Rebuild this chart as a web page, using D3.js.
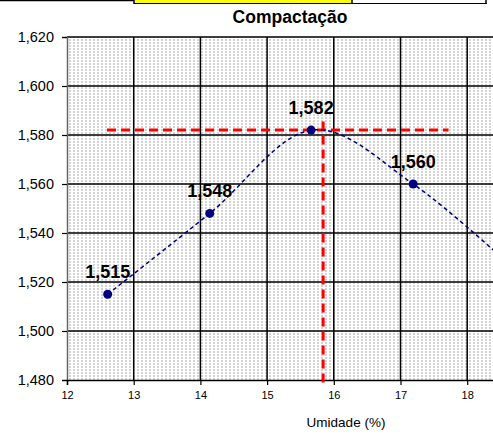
<!DOCTYPE html>
<html>
<head>
<meta charset="utf-8">
<script src="https://cdn.jsdelivr.net/npm/d3@7"></script>
<style>
  body { margin: 0; background: #fff; }
  svg { display: block; font-family: "Liberation Sans", Arial, sans-serif; }
</style>
</head>
<body>
<div id="chart"></div>
<script>
// data
var umidade   = [12.61, 14.14, 15.66, 17.19, 18.72];   // %
var densidade = [1.515, 1.548, 1.582, 1.560, 1.525];   // g/cm3
var yTicks = [1.48, 1.50, 1.52, 1.54, 1.56, 1.58, 1.60, 1.62];
var xTicks = [12, 13, 14, 15, 16, 17, 18];
var xGrid  = [13, 14, 15, 16, 17, 18, 19];
// optimum lines (red dashes)
var otimoH = {x1: 12.6, x2: 17.72, y: 1.582};
var otimoV = {x: 15.84, y1: 1.5855, y2: 1.479};

var width = 493,
    height = 437;

var x = d3.scaleLinear().domain([12, 20]).range([67, 600.6]);
var y = d3.scaleLinear().domain([1.48, 1.62]).range([380, 37]);

var br = d3.formatLocale({decimal: ",", thousands: ".", grouping: [3], currency: ["", ""]});
var fmt = br.format(".3f");

var svg = d3.select("#chart").append("svg")
    .attr("width", width)
    .attr("height", height);

// dotted fill of the plot area
var pat = svg.append("defs").append("pattern")
    .attr("id", "dots")
    .attr("patternUnits", "userSpaceOnUse")
    .attr("width", 4)
    .attr("height", 3);
pat.append("rect").attr("width", 4).attr("height", 3).attr("fill", "#fff");
pat.append("rect").attr("x", 1).attr("y", 0).attr("width", 2).attr("height", 2).attr("fill", "#d4d4d4");

// bits of the spreadsheet table above the chart
svg.append("rect").attr("x", 135).attr("y", 0).attr("width", 217).attr("height", 3).attr("fill", "#ffff00");
svg.append("line").attr("x1", 0).attr("x2", 134).attr("y1", 0.5).attr("y2", 0.5).attr("stroke", "#000").attr("stroke-width", 1.5);
svg.append("line").attr("x1", 134).attr("x2", 487).attr("y1", 3.5).attr("y2", 3.5).attr("stroke", "#000").attr("stroke-width", 1);
[134, 352, 486].forEach(function(px){
    svg.append("line").attr("x1", px).attr("x2", px).attr("y1", 0).attr("y2", 4).attr("stroke", "#000").attr("stroke-width", 1.5);
});

// plot area
svg.append("rect")
    .attr("x", x(12))
    .attr("y", y(1.62))
    .attr("width", x(20) - x(12))
    .attr("height", y(1.48) - y(1.62))
    .attr("fill", "url(#dots)");

// grid
svg.append("g").selectAll("line")
    .data(yTicks.slice(1))
  .enter().append("line")
    .attr("x1", x(12)).attr("x2", x(20))
    .attr("y1", function(d){ return y(d); })
    .attr("y2", function(d){ return y(d); })
    .attr("stroke", "#000")
    .attr("stroke-width", 1.5);

svg.append("g").selectAll("line")
    .data(xGrid)
  .enter().append("line")
    .attr("x1", function(d){ return x(d); })
    .attr("x2", function(d){ return x(d); })
    .attr("y1", y(1.62)).attr("y2", y(1.48))
    .attr("stroke", "#000")
    .attr("stroke-width", 1.5);

// axes
var yAxis = svg.append("g")
    .attr("transform", "translate(" + x(12) + ",0)")
    .call(d3.axisLeft(y).tickValues(yTicks).tickFormat(fmt).tickSize(5).tickPadding(8));
yAxis.select(".domain").attr("stroke", "#666").attr("stroke-width", 1.5);
yAxis.selectAll(".tick line").attr("stroke", "#000").attr("stroke-width", 1.2);
yAxis.selectAll("text").attr("font-size", "14.5px").attr("fill", "#000")
    .attr("font-family", "Liberation Sans, Arial, sans-serif");

var xAxis = svg.append("g")
    .attr("transform", "translate(0," + y(1.48) + ")")
    .call(d3.axisBottom(x).tickValues(xTicks).tickFormat(d3.format("d")).tickSize(5).tickPadding(6));
xAxis.select(".domain").attr("stroke", "#000").attr("stroke-width", 1.5);
xAxis.selectAll(".tick line").attr("stroke", "#000").attr("stroke-width", 1.2);
xAxis.selectAll("text").attr("font-size", "11px").attr("fill", "#000")
    .attr("font-family", "Liberation Sans, Arial, sans-serif");

// titles
svg.append("text")
    .attr("x", 290).attr("y", 23)
    .attr("text-anchor", "middle")
    .attr("font-weight", "bold")
    .attr("font-size", "17.5px")
    .text("Compactação");

svg.append("text")
    .attr("x", 346).attr("y", 427)
    .attr("text-anchor", "middle")
    .attr("font-size", "13.5px")
    .text("Umidade (%)");

// red dashed optimum lines
svg.append("line")
    .attr("x1", x(otimoH.x1)).attr("x2", x(otimoH.x2))
    .attr("y1", y(otimoH.y)).attr("y2", y(otimoH.y))
    .attr("stroke", "#ff0000").attr("stroke-width", 3)
    .attr("stroke-dasharray", "9,5");
svg.append("line")
    .attr("x1", x(otimoV.x)).attr("x2", x(otimoV.x))
    .attr("y1", y(otimoV.y1)).attr("y2", y(otimoV.y2))
    .attr("stroke", "#ff0000").attr("stroke-width", 3)
    .attr("stroke-dasharray", "9,5");

// smoothed curve
var pts = umidade.map(function(u, i){ return [u, densidade[i]]; });
var line = d3.line()
    .x(function(d){ return x(d[0]); })
    .y(function(d){ return y(d[1]); })
    .curve(d3.curveCardinal.tension(0));

svg.append("path")
    .datum(pts)
    .attr("d", line)
    .attr("fill", "none")
    .attr("stroke", "#000080")
    .attr("stroke-width", 1.5)
    .attr("stroke-dasharray", "4,3");

svg.append("g").selectAll("circle")
    .data(pts)
  .enter().append("circle")
    .attr("cx", function(d){ return x(d[0]); })
    .attr("cy", function(d){ return y(d[1]); })
    .attr("r", 4.5)
    .attr("fill", "#000080");

// labels only for points inside the visible part of the chart
svg.append("g").selectAll("text")
    .data(pts.filter(function(d){ return x(d[0]) < width - 30; }))
  .enter().append("text")
    .attr("x", function(d){ return x(d[0]); })
    .attr("y", function(d){ return y(d[1]) - 16; })
    .attr("text-anchor", "middle")
    .attr("font-weight", "bold")
    .attr("font-size", "18px")
    .text(function(d){ return fmt(d[1]); });
</script>
</body>
</html>
